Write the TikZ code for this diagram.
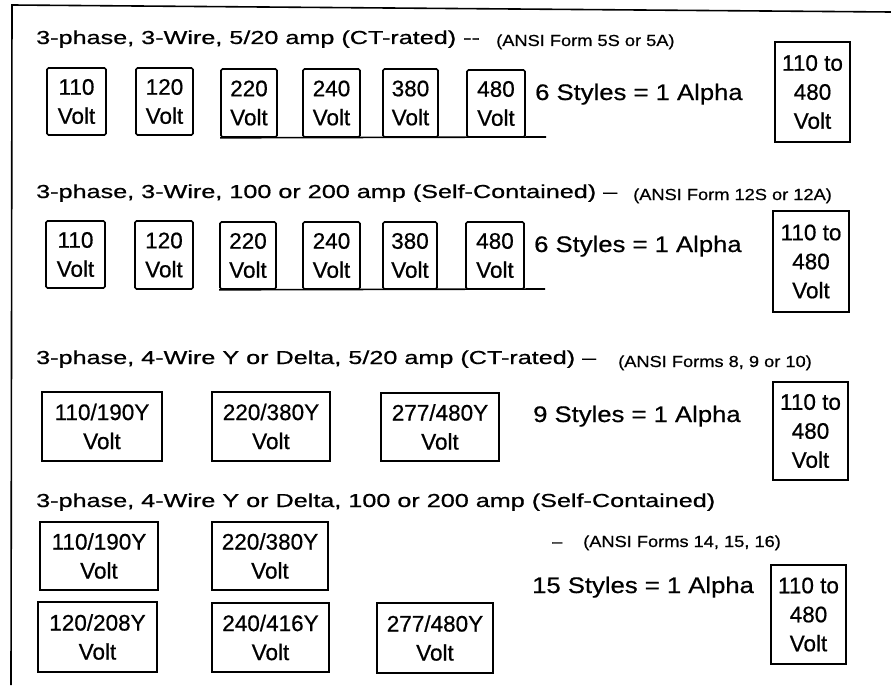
\documentclass[tikz,border=0pt]{standalone}
\usepackage{fontspec}
\setmainfont{Liberation Sans}[FakeBold=0.6]
\usepackage{graphicx}
\tikzset{
 vbox/.style={draw, line width=1.6pt, rounded corners=1.5pt, inner sep=0pt, align=center, font=\fontsize{22.5pt}{29pt}\selectfont},
 wbox/.style={draw, line width=1.6pt, inner sep=0pt, align=center, font=\fontsize{22.5pt}{29pt}\selectfont},
 head/.style={anchor=base west, inner sep=0pt, font=\fontsize{18.8pt}{22pt}\selectfont},
 ansi/.style={anchor=base west, inner sep=0pt, font=\fontsize{16pt}{19pt}\selectfont},
 styl/.style={anchor=base west, inner sep=0pt, font=\fontsize{22.5pt}{26pt}\selectfont},
 rule/.style={line width=1.6pt},
 frame/.style={line width=1.6pt},
}
\newcommand\hx[1]{\scalebox{1.34}[1]{#1}}
\newcommand\ax[1]{\scalebox{1.14}[1]{#1}}
\begin{document}
\begin{tikzpicture}[x=1pt,y=-1pt]
\useasboundingbox (0,0) rectangle (891,685);
% frame
\coordinate (ftr) at (891,12);
\coordinate (ftl) at (12,5);
\coordinate (fbl) at (11,685);
\draw[frame] (ftr) -- (ftl) -- (fbl);

% ---------- Section 1
\node[head] (h1) at (36,44) {\hx{3-phase, 3-Wire, 5/20 amp (CT-rated) -{}-}};
\node[ansi] (a1) at (496,46) {\ax{(ANSI Form 5S or 5A)}};
\node[vbox, minimum width=59pt, minimum height=67pt] (b11) at (76.5,101.5) {110\\Volt};
\node[vbox, minimum width=57pt, minimum height=67pt] (b12) at (164.5,101.5) {120\\Volt};
\node[vbox, minimum width=56pt, minimum height=68pt] (b13) at (249,103) {220\\Volt};
\node[vbox, minimum width=57pt, minimum height=68pt] (b14) at (331.5,103) {240\\Volt};
\node[vbox, minimum width=55pt, minimum height=68pt] (b15) at (410.5,103) {380\\Volt};
\node[vbox, minimum width=58pt, minimum height=67pt] (b16) at (496,103.5) {480\\Volt};
\coordinate (l1) at (546,137);
\draw[rule] (b13.south west) -- (l1);
\node[styl] (s1) at (535,100) {\ax{6 Styles = 1 Alpha}};
\node[wbox, minimum width=75pt, minimum height=100pt] (r1) at (812.5,92) {110 to\\480\\Volt};

% ---------- Section 2
\node[head] (h2) at (36,198) {\hx{3-phase, 3-Wire, 100 or 200 amp (Self-Contained) –}};
\node[ansi] (a2) at (633,200) {\ax{(ANSI Form 12S or 12A)}};
\node[vbox, minimum width=59pt, minimum height=67pt] (b21) at (75.5,254.5) {110\\Volt};
\node[vbox, minimum width=58pt, minimum height=68pt] (b22) at (164,255) {120\\Volt};
\node[vbox, minimum width=56pt, minimum height=67pt] (b23) at (248,255.5) {220\\Volt};
\node[vbox, minimum width=57pt, minimum height=67pt] (b24) at (331.5,255.5) {240\\Volt};
\node[vbox, minimum width=54pt, minimum height=67pt] (b25) at (410,255.5) {380\\Volt};
\node[vbox, minimum width=58pt, minimum height=67pt] (b26) at (495,255.5) {480\\Volt};
\coordinate (l2) at (545,289);
\draw[rule] (b23.south west) -- (l2);
\node[styl] (s2) at (534,252) {\ax{6 Styles = 1 Alpha}};
\node[wbox, minimum width=76pt, minimum height=101pt] (r2) at (811,261.5) {110 to\\480\\Volt};

% ---------- Section 3
\node[head] (h3) at (36,364) {\hx{3-phase, 4-Wire Y or Delta, 5/20 amp (CT-rated) –}};
\node[ansi] (a3) at (618,367) {\ax{(ANSI Forms 8, 9 or 10)}};
\node[wbox, minimum width=120pt, minimum height=69pt] (b31) at (102,426.5) {110/190Y\\Volt};
\node[wbox, minimum width=118pt, minimum height=69pt] (b32) at (271,426.5) {220/380Y\\Volt};
\node[wbox, minimum width=118pt, minimum height=68pt] (b33) at (440,427) {277/480Y\\Volt};
\node[styl] (s3) at (533,422) {\ax{9 Styles = 1 Alpha}};
\node[wbox, minimum width=75pt, minimum height=98pt] (r3) at (810.5,431) {110 to\\480\\Volt};

% ---------- Section 4
\node[head] (h4) at (36,507) {\hx{3-phase, 4-Wire Y or Delta, 100 or 200 amp (Self-Contained)}};
\node[ansi] (d4) at (552,547) {\ax{–}};
\node[ansi] (a4) at (583,547) {\ax{(ANSI Forms 14, 15, 16)}};
\node[wbox, minimum width=118pt, minimum height=68pt] (b41) at (99,556) {110/190Y\\Volt};
\node[wbox, minimum width=116pt, minimum height=68pt] (b42) at (270,556) {220/380Y\\Volt};
\node[wbox, minimum width=119pt, minimum height=70pt] (b43) at (97.5,637) {120/208Y\\Volt};
\node[wbox, minimum width=117pt, minimum height=69pt] (b44) at (270.5,637.5) {240/416Y\\Volt};
\node[wbox, minimum width=116pt, minimum height=70pt] (b45) at (435,638) {277/480Y\\Volt};
\node[styl] (s4) at (532,593) {\ax{15 Styles = 1 Alpha}};
\node[wbox, minimum width=75pt, minimum height=99pt] (r4) at (808.5,614.5) {110 to\\480\\Volt};
\end{tikzpicture}
\end{document}
